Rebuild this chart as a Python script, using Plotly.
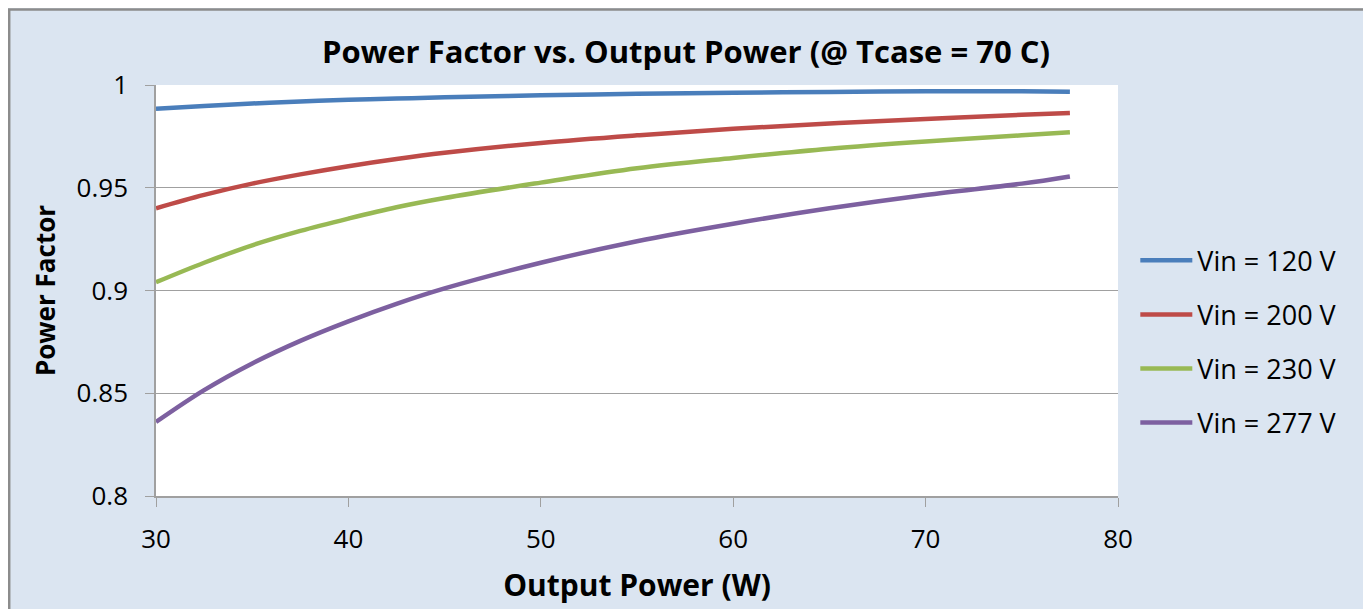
import plotly.graph_objects as go

x_power = [30, 32.5, 35, 37.5, 40, 42.5, 45, 50, 55, 60, 65, 70, 75, 77.5]
pf_120 = [0.9885, 0.9898, 0.991, 0.992, 0.9928, 0.9934, 0.994, 0.995, 0.9957, 0.9962, 0.9966, 0.9969, 0.9969, 0.9967]
pf_200 = [0.940, 0.9465, 0.952, 0.9565, 0.9605, 0.964, 0.967, 0.9718, 0.9755, 0.9787, 0.9813, 0.9835, 0.9855, 0.9864]
pf_230 = [0.904, 0.9135, 0.922, 0.929, 0.935, 0.9405, 0.945, 0.9525, 0.9595, 0.9645, 0.969, 0.9725, 0.9755, 0.977]
pf_277 = [0.836, 0.8515, 0.8645, 0.8755, 0.885, 0.8935, 0.901, 0.9135, 0.924, 0.9325, 0.940, 0.9465, 0.952, 0.9555]

series_names = ["Vin = 120 V", "Vin = 200 V", "Vin = 230 V", "Vin = 277 V"]
series_vals = [pf_120, pf_200, pf_230, pf_277]
colors = ["#4A7EBB", "#BE4B48", "#98B954", "#7D60A0"]

x_ticks = [30, 40, 50, 60, 70, 80]
y_ticks = [0.8, 0.85, 0.9, 0.95, 1]
y_ticklabels = ["0.8", "0.85", "0.9", "0.95", "1"]

FONT = "'Open Sans', sans-serif"

fig = go.Figure()
for name, vals, c in zip(series_names, series_vals, colors):
    fig.add_trace(go.Scatter(x=x_power, y=vals, mode="lines", name=name,
                             legendgroup=name,
                             line=dict(color=c, width=4.5, shape="spline", smoothing=1.0)))

# page body has an 8px margin, so the figure is placed at (8, 8)
W, H = 1363, 601
L, T = 148, 77
PW, PH = 962, 413
fig.update_layout(
    width=W, height=H,
    paper_bgcolor="#DBE5F1",
    plot_bgcolor="white",
    margin=dict(l=L, r=W - L - PW, t=T, b=H - T - PH, pad=0),
    title=dict(text="<b>Power Factor vs. Output Power (@ Tcase = 70 C)</b>",
               x=(686 - 8) / W, xanchor="center", y=1 - (52 - 8) / H, yanchor="middle",
               font=dict(family=FONT, size=31, color="black")),
    font=dict(family=FONT, color="black"),
    showlegend=True,
    legend=dict(x=1.018, xanchor="left", y=1 - (343 - 85) / PH, yanchor="middle",
                bgcolor="rgba(0,0,0,0)", font=dict(size=27, color="black"),
                tracegroupgap=16, itemwidth=52),
    xaxis=dict(range=[30, 80], tickvals=x_ticks, showgrid=False,
               showline=True, linecolor="#A0A0A0", linewidth=1.5,
               ticks="outside", ticklen=9, tickcolor="#A0A0A0",
               tickfont=dict(size=26), zeroline=False, ticklabelstandoff=10,
               title=dict(text="<b>Output Power (W)</b>", font=dict(size=30), standoff=20)),
    yaxis=dict(range=[0.8, 1], tickvals=y_ticks, ticktext=y_ticklabels,
               showgrid=True, gridcolor="#A0A0A0", gridwidth=1,
               showline=True, linecolor="#A0A0A0", linewidth=1.5,
               ticks="outside", ticklen=9, tickcolor="#A0A0A0",
               tickfont=dict(size=26), zeroline=False, ticklabelstandoff=12,
               title=dict(text="<b>Power Factor</b>", font=dict(size=26), standoff=14)),
)

# outer chart border (left, top, right only; the bottom runs off the picture)
fig.add_shape(type="rect", xref="paper", yref="paper",
              x0=(-L + 1.2) / PW, x1=1 + (1369 - 8 - L - PW) / PW,
              y0=-(H - T - PH + 20) / PH, y1=1 + (T - 1.2) / PH,
              line=dict(color="#8C8C8C", width=2.5), fillcolor="rgba(0,0,0,0)", layer="below")

fig.write_html("out.html")
